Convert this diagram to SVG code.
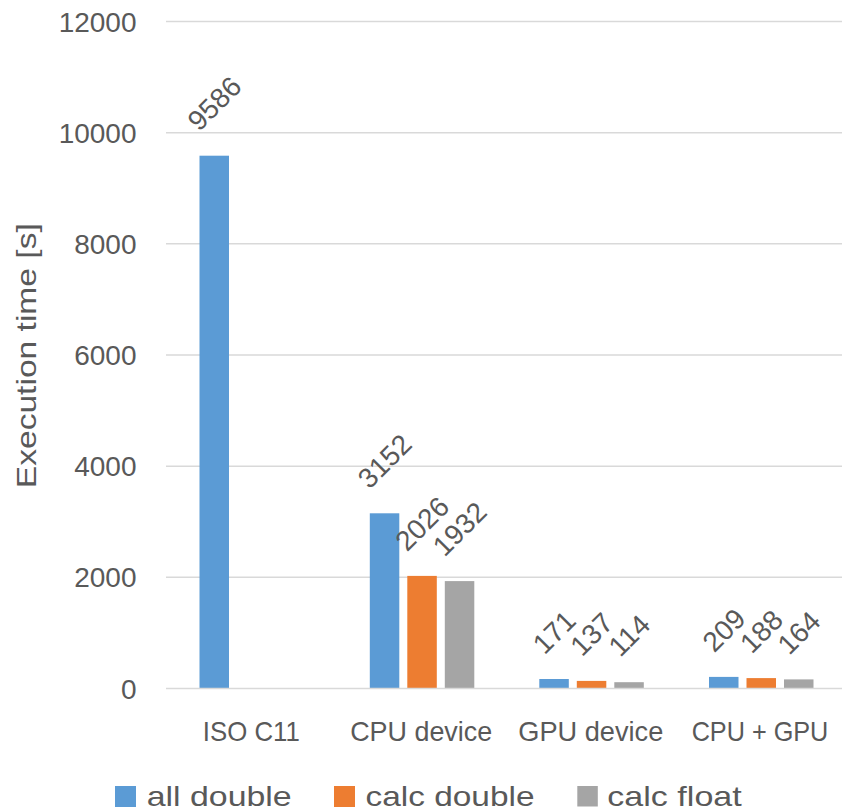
<svg xmlns="http://www.w3.org/2000/svg" width="842" height="812" viewBox="0 0 842 812">
<style>
text{font-family:"Liberation Sans",Arial,sans-serif;fill:#595959;font-size:28px}
.tick{text-anchor:end}
.cat{text-anchor:middle}
.dl{text-anchor:middle}
.grid{stroke:#d9d9d9;stroke-width:1.5;fill:none}
.b{fill:#5b9bd5}
.o{fill:#ed7d31}
.g{fill:#a5a5a5}
</style>
<rect width="842" height="812" fill="#ffffff"/>
<g id="gridlines">
<line class="grid" x1="166" y1="21.5" x2="842" y2="21.5"/>
<line class="grid" x1="166" y1="132.7" x2="842" y2="132.7"/>
<line class="grid" x1="166" y1="243.8" x2="842" y2="243.8"/>
<line class="grid" x1="166" y1="355" x2="842" y2="355"/>
<line class="grid" x1="166" y1="466.2" x2="842" y2="466.2"/>
<line class="grid" x1="166" y1="577.3" x2="842" y2="577.3"/>
</g>
<g id="y-axis">
<text class="tick" x="136.5" y="31.5">12000</text>
<text class="tick" x="136.5" y="142.7">10000</text>
<text class="tick" x="136.5" y="253.8">8000</text>
<text class="tick" x="136.5" y="365">6000</text>
<text class="tick" x="136.5" y="476.2">4000</text>
<text class="tick" x="136.5" y="587.3">2000</text>
<text class="tick" x="136.5" y="698.5">0</text>
<text x="0" y="0" transform="translate(36 355.7) rotate(-90)" text-anchor="middle" font-size="29" textLength="265" lengthAdjust="spacingAndGlyphs">Execution time [s]</text>
</g>
<g id="bars">
<g id="iso-c11">
<rect class="b" x="199.5" y="155.7" width="29.5" height="532.8"/>
<text class="dl" transform="translate(221.3 110.3) rotate(-45)">9586</text>
</g>
<g id="cpu-device">
<rect class="b" x="369.8" y="513.3" width="29.5" height="175.2"/>
<rect class="o" x="407.3" y="575.9" width="29.5" height="112.6"/>
<rect class="g" x="444.8" y="581.1" width="29.5" height="107.4"/>
<text class="dl" transform="translate(391.6 467.9) rotate(-45)">3152</text>
<text class="dl" transform="translate(429.1 530.5) rotate(-45)">2026</text>
<text class="dl" transform="translate(466.6 535.7) rotate(-45)">1932</text>
</g>
<g id="gpu-device">
<rect class="b" x="539.3" y="679" width="29.5" height="9.5"/>
<rect class="o" x="576.8" y="680.9" width="29.5" height="7.6"/>
<rect class="g" x="614.3" y="682.2" width="29.5" height="6.3"/>
<text class="dl" transform="translate(561.1 639.1) rotate(-45)">171</text>
<text class="dl" transform="translate(598.6 641) rotate(-45)">137</text>
<text class="dl" transform="translate(636.1 642.3) rotate(-45)">114</text>
</g>
<g id="cpu-gpu">
<rect class="b" x="709" y="676.9" width="29.5" height="11.6"/>
<rect class="o" x="746.5" y="678.1" width="29.5" height="10.4"/>
<rect class="g" x="784" y="679.4" width="29.5" height="9.1"/>
<text class="dl" transform="translate(730.8 637) rotate(-45)">209</text>
<text class="dl" transform="translate(768.3 638.2) rotate(-45)">188</text>
<text class="dl" transform="translate(805.8 639.5) rotate(-45)">164</text>
</g>
</g>
<g id="x-axis">
<line class="grid" x1="166" y1="688.5" x2="842" y2="688.5" stroke-width="2"/>
<text class="cat" x="251.3" y="740.7" textLength="97" lengthAdjust="spacingAndGlyphs">ISO C11</text>
<text class="cat" x="421.2" y="740.7" textLength="142" lengthAdjust="spacingAndGlyphs">CPU device</text>
<text class="cat" x="590.8" y="740.7" textLength="145" lengthAdjust="spacingAndGlyphs">GPU device</text>
<text class="cat" x="760" y="740.7" textLength="136.7" lengthAdjust="spacingAndGlyphs">CPU + GPU</text>
</g>
<g id="legend">
<rect class="b" x="115" y="786" width="21" height="21"/>
<text x="146.7" y="806" textLength="145" lengthAdjust="spacingAndGlyphs">all double</text>
<rect class="o" x="334" y="786" width="21" height="21"/>
<text x="365.5" y="806" textLength="169" lengthAdjust="spacingAndGlyphs">calc double</text>
<rect class="g" x="577.3" y="786" width="20.5" height="20.5"/>
<text x="607.3" y="806" textLength="134.5" lengthAdjust="spacingAndGlyphs">calc float</text>
</g>
</svg>
